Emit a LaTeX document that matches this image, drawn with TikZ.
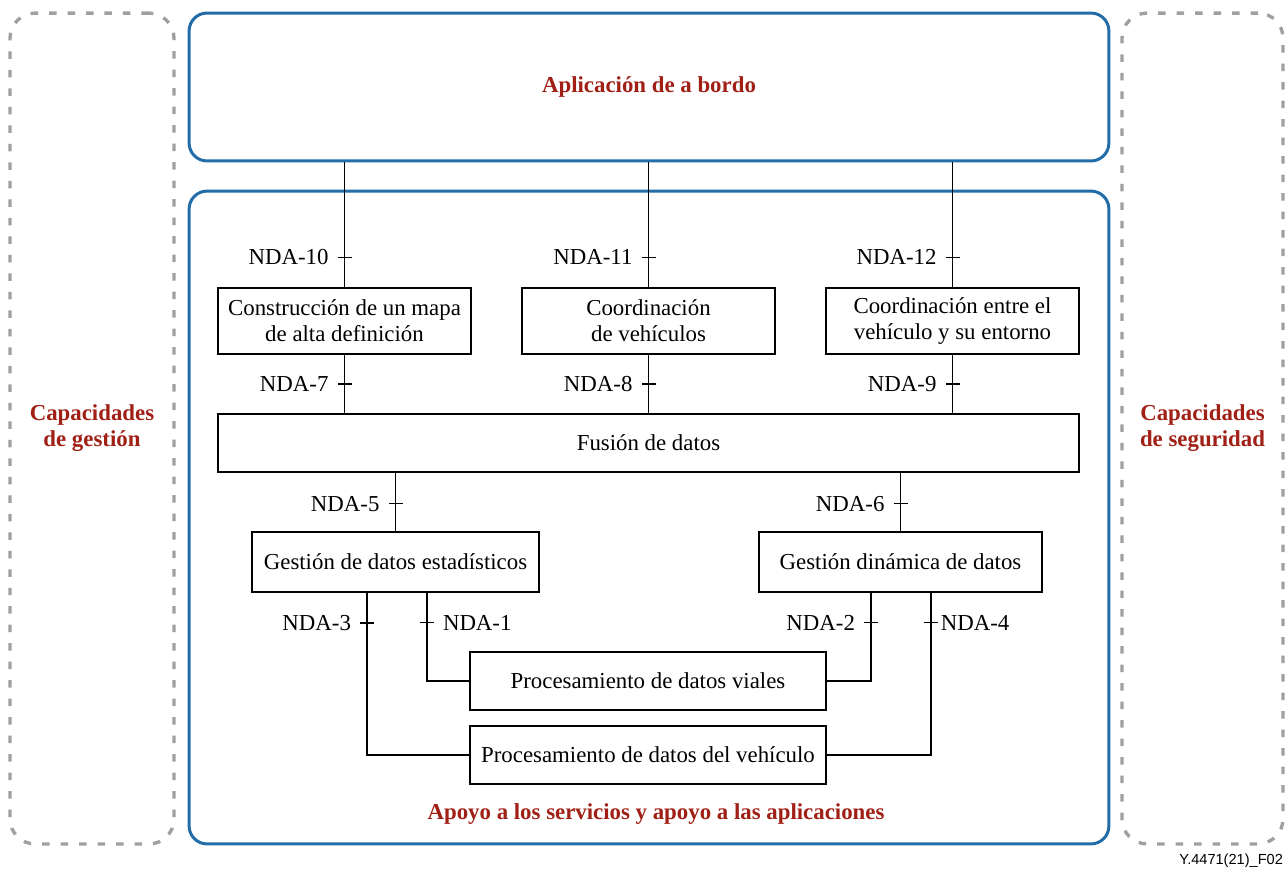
\documentclass[tikz,border=0pt]{standalone}
\usepackage{fontspec}
\setmainfont{Liberation Serif}
\newfontfamily\figfont{Liberation Sans}
\usetikzlibrary{positioning}
\definecolor{itublue}{RGB}{34,108,168}
\definecolor{itured}{RGB}{160,32,22}
\definecolor{dashgray}{RGB}{160,160,160}

\begin{document}
\begin{tikzpicture}[x=0.02cm, y=-0.02cm,
    every node/.style={font=\fontsize{13}{14.8}\selectfont},
    block/.style={rectangle, draw=black, line width=0.8pt, align=center, inner sep=2pt},
    frame/.style={rectangle, draw=itublue, line width=1.7pt, rounded corners=0.36cm},
    side/.style={rectangle, draw=dashgray, line width=1.9pt, rounded corners=0.5cm,
        dash pattern=on 0.15cm off 0.22cm, align=center},
    title/.style={text=itured, font=\fontsize{13}{14.8}\selectfont\bfseries, align=center},
    tick/.style={fill=black, inner sep=0pt, minimum width=0.28cm, minimum height=0.8pt},
    link/.style={line width=0.8pt},
    label distance=1pt]
\useasboundingbox (0,0) rectangle (1285,872);

% side capabilities
\node[side, title, minimum width=3.28cm, minimum height=16.62cm] (gestion) at (92,428.5)
    {Capacidades\\de gestión};
\node[side, title, minimum width=3.22cm, minimum height=16.62cm] (seguridad) at (1202.5,428.5)
    {Capacidades\\de seguridad};

% application and support frames
\node[frame, title, minimum width=18.4cm, minimum height=2.96cm] (apl) at (649,87)
    {Aplicación de a bordo};
\node[frame, minimum width=18.4cm, minimum height=13.06cm] (apoyo) at (649,517.5) {};
\node[title] (apoyotxt) at (656,814) {Apoyo a los servicios y apoyo a las aplicaciones};

% functional blocks
\node[block, minimum width=5.06cm, minimum height=1.32cm] (mapa) at (344.5,321)
    {Construcción de un mapa\\de alta definición};
\node[block, minimum width=5.06cm, minimum height=1.32cm] (coord) at (648.5,321)
    {Coordinación\\de vehículos};
\node[block, minimum width=5.06cm, minimum height=1.32cm] (entorno) at (952.5,321)
    {Coordinación entre el\\vehículo y su entorno};
\node[block, minimum width=17.22cm, minimum height=1.16cm] (fusion) at (648.5,443)
    {Fusión de datos};
\node[block, minimum width=5.74cm, minimum height=1.2cm] (estad) at (395.5,562)
    {Gestión de datos estadísticos};
\node[block, minimum width=5.66cm, minimum height=1.2cm] (dinam) at (900.5,562)
    {Gestión dinámica de datos};
\node[block, minimum width=7.12cm, minimum height=1.16cm] (viales) at (648,681)
    {Procesamiento de datos viales};
\node[block, minimum width=7.12cm, minimum height=1.16cm] (vehic) at (648,755)
    {Procesamiento de datos del vehículo};

% reference points
\draw[link] (mapa.north) -- node[tick, pos=0.24, label=left:NDA-10] {} (mapa.north |- apl.south);
\draw[link] (coord.north) -- node[tick, pos=0.24, label=left:NDA-11] {} (coord.north |- apl.south);
\draw[link] (entorno.north) -- node[tick, pos=0.24, label=left:NDA-12] {} (entorno.north |- apl.south);

\draw[link] (mapa.south) -- node[tick, label=left:NDA-7] {} (mapa.south |- fusion.north);
\draw[link] (coord.south) -- node[tick, label=left:NDA-8] {} (coord.south |- fusion.north);
\draw[link] (entorno.south) -- node[tick, label=left:NDA-9] {} (entorno.south |- fusion.north);

\draw[link] (estad.north) -- node[tick, pos=0.47, label=left:NDA-5] {} (estad.north |- fusion.south);
\draw[link] (dinam.north) -- node[tick, pos=0.47, label=left:NDA-6] {} (dinam.north |- fusion.south);

\draw[link] ([xshift=-0.57cm]estad.south) |- node[tick, pos=0.093, label=left:NDA-3] {} (vehic.west);
\draw[link] ([xshift=0.63cm]estad.south) |- node[tick, pos=0.169, label=right:NDA-1] {} (viales.west);
\draw[link] ([xshift=-0.59cm]dinam.south) |- node[tick, pos=0.169, label=left:NDA-2] {} (viales.east);
\draw[link] ([xshift=0.61cm]dinam.south) |- node[tick, pos=0.092,
    label={[label distance=-2.5pt]right:NDA-4}] {} (vehic.east);

\node[anchor=east, font=\figfont\fontsize{8.3}{10}\selectfont, inner sep=1pt] (figref) at (1285,861)
    {Y.4471(21)\_F02};
\end{tikzpicture}
\end{document}
